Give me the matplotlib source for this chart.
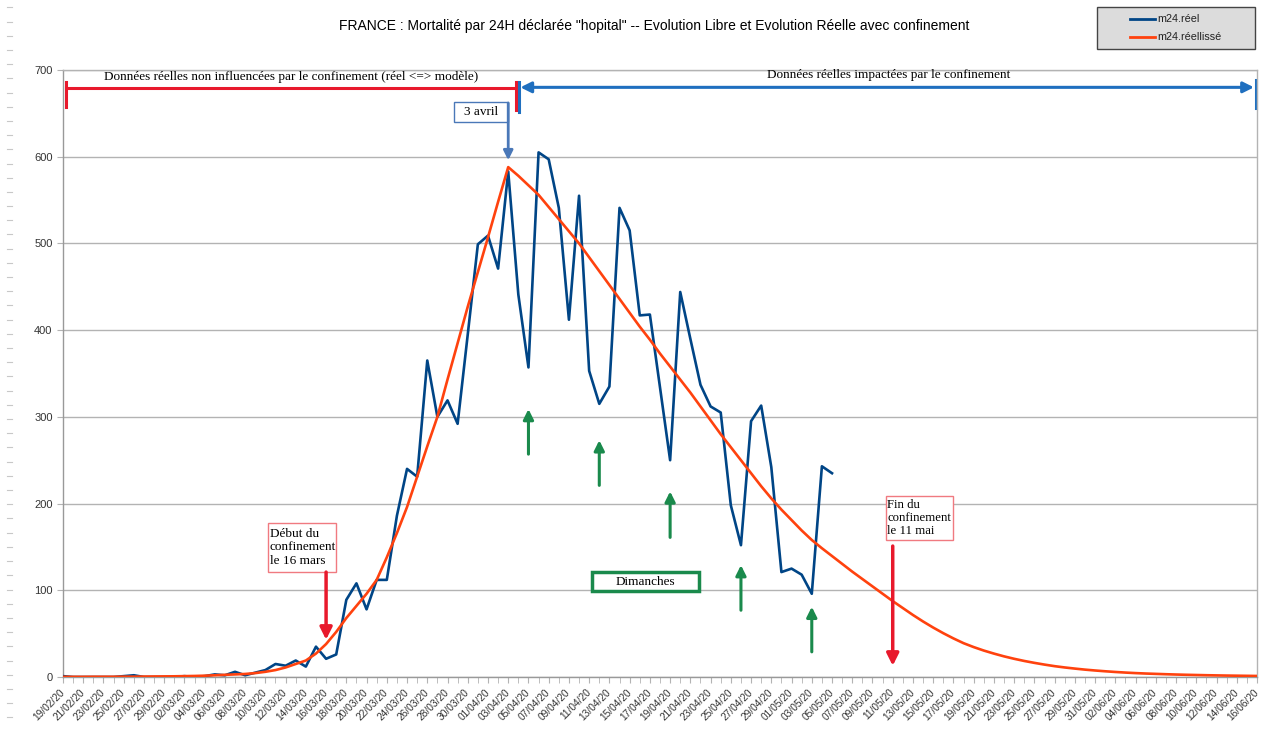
import matplotlib
matplotlib.use('Agg')
import matplotlib.pyplot as plt
from matplotlib.patches import Rectangle
from matplotlib.lines import Line2D
import pandas as pd

# jours du 19/02/20 au 16/06/20
dates = pd.date_range('2020-02-19', '2020-06-16', freq='D')
tick_labels = [d.strftime('%d/%m/%y') for d in dates]

# m24.réel (19/02 -> 06/05)
m24_reel = [1, 0, 0, 0, 0, 0, 1, 2, 0, 0,
            0, 0, 1, 0, 1, 3, 2, 6, 2, 5,
            8, 15, 13, 19, 12, 35, 21, 26, 89, 108,
            78, 112, 112, 186, 240, 231, 365, 300, 319, 292,
            395, 499, 509, 471, 583, 441, 357, 605, 597, 541,
            412, 555, 353, 315, 335, 541, 515, 417, 418, 334,
            250, 444, 390, 337, 312, 305, 198, 152, 295, 313,
            242, 121, 125, 118, 96, 243, 235]

# m24.réellissé (19/02 -> 16/06)
m24_lisse = [0.2, 0.2, 0.2, 0.3, 0.3, 0.3, 0.4, 0.4, 0.5, 0.6,
             0.7, 0.8, 1, 1.2, 1.5, 2, 2.5, 3, 3.5, 4.5,
             6, 8, 11, 15, 19, 27, 38, 52, 68, 82,
             96, 112, 138, 166, 196, 231, 266, 300, 343, 385,
             427, 467, 507, 548, 588, 578, 567, 556, 542, 528,
             514, 500, 484, 468, 452, 436, 420, 404, 389, 373,
             358, 343, 328, 312, 296, 280, 265, 250, 235, 220,
             206, 193, 181, 169, 158, 148.5, 139.5, 130.5, 121.5, 113,
             104.5, 96, 87.5, 79.5, 71.5, 64, 57, 50.5, 44.5, 39,
             34.5, 30.5, 27, 23.8, 21, 18.5, 16.3, 14.3, 12.5, 11,
             9.7, 8.5, 7.5, 6.6, 5.8, 5.1, 4.5, 4.0, 3.6, 3.2,
             2.85, 2.55, 2.3, 2.05, 1.85, 1.65, 1.5, 1.35, 1.2]

# dimanches marqués par une flèche verte (indice de jour, bas, pointe)
dimanches = [46, 53, 60, 67, 74]
dim_bas = [257, 221, 161, 77, 29]
dim_haut = [309, 273, 214, 129, 81]

BLEU = '#004586'
ORANGE = '#ff420e'
ROUGE = '#e8192c'
BLEU_ANNOT = '#1f6fbf'
VERT = '#1a8a4c'
GRIS = '#b3b3b3'

plt.rcParams['font.family'] = ['Liberation Sans', 'DejaVu Sans']

W, H = 1261, 731
fig = plt.figure(figsize=(W / 100, H / 100), dpi=100)
ax = fig.add_axes([63 / W, 54 / H, 1194 / W, 607 / H])

x_reel = list(range(len(m24_reel)))
x_lisse = list(range(len(m24_lisse)))
ax.plot(x_reel, m24_reel, color=BLEU, lw=1.9, zorder=3)
ax.plot(x_lisse, m24_lisse, color=ORANGE, lw=1.9, zorder=4)

ax.set_xlim(0, len(dates) - 1)
ax.set_ylim(0, 700)
ax.set_yticks(range(0, 701, 100))
ax.set_xticks(range(0, len(dates), 2))
ax.set_xticklabels(tick_labels[::2], rotation=45, ha='right', va='center',
                   rotation_mode='anchor', fontsize=7.3, color='#333333')
ax.set_xticks(range(len(dates)), minor=True)
ax.tick_params(axis='y', labelsize=8, colors='#333333', length=4, color=GRIS)
ax.tick_params(axis='x', which='both', length=4, color=GRIS, pad=6)
ax.grid(axis='y', color=GRIS, lw=1)
ax.set_axisbelow(True)
for s in ax.spines.values():
    s.set_color(GRIS)
    s.set_linewidth(1)
ax.spines['left'].set_color('#999999')
ax.spines['bottom'].set_color('#999999')

serif = ['Liberation Serif', 'DejaVu Serif']

# accolade rouge : avant confinement
ax.plot([0.3, 44.75], [679, 679], color=ROUGE, lw=2.2, clip_on=False)
ax.plot([0.3, 0.3], [657, 686], color=ROUGE, lw=2.2, clip_on=False)
ax.plot([44.75, 44.75], [654, 686], color=ROUGE, lw=2.2, clip_on=False)
ax.text(22.5, 692, 'Données réelles non influencées par le confinement (réel <=> modèle)',
        family=serif, fontsize=9.5, ha='center', va='center')

# flèche bleue : après confinement
ax.annotate('', xy=(45.2, 680), xytext=(117.7, 680),
            arrowprops=dict(arrowstyle='<|-|>', color=BLEU_ANNOT, lw=2.2,
                            mutation_scale=16, shrinkA=0, shrinkB=0), annotation_clip=False)
ax.plot([45.05, 45.05], [652, 686], color=BLEU_ANNOT, lw=2.2, clip_on=False)
ax.plot([117.9, 117.9], [656, 689], color=BLEU_ANNOT, lw=2.2, clip_on=False)
ax.text(81.6, 694, 'Données réelles impactées par le confinement',
        family=serif, fontsize=9.5, ha='center', va='center')

# 3 avril
ax.add_patch(Rectangle((38.6, 640), 5.35, 23, fill=True, facecolor='white',
                       edgecolor='#4a78b8', lw=1, zorder=5))
ax.text(41.3, 652, '3 avril', family=serif, fontsize=9.5, ha='center', va='center', zorder=6)
ax.annotate('', xy=(44, 596), xytext=(44, 662),
            arrowprops=dict(arrowstyle='-|>', color='#4a78b8', lw=2,
                            mutation_scale=14, shrinkA=0, shrinkB=0), zorder=6)

# début du confinement
ax.add_patch(Rectangle((20.26, 121), 6.72, 57, fill=True, facecolor='white',
                       edgecolor='#f07a80', lw=1, zorder=5))
ax.text(20.45, 149.5, 'Début du\nconfinement\nle 16 mars', family=serif, fontsize=9.5,
        ha='left', va='center', linespacing=1.15, zorder=6)
ax.annotate('', xy=(26, 43), xytext=(26, 121),
            arrowprops=dict(arrowstyle='-|>', color=ROUGE, lw=2.5,
                            mutation_scale=18, shrinkA=0, shrinkB=0), zorder=6)

# fin du confinement
ax.add_patch(Rectangle((81.3, 158), 6.7, 51, fill=True, facecolor='white',
                       edgecolor='#f07a80', lw=1, zorder=5))
ax.text(81.45, 183.5, 'Fin du\nconfinement\nle 11 mai', family=serif, fontsize=9.2,
        ha='left', va='center', linespacing=1.15, zorder=6)
ax.annotate('', xy=(82, 13), xytext=(82, 151),
            arrowprops=dict(arrowstyle='-|>', color=ROUGE, lw=2.5,
                            mutation_scale=18, shrinkA=0, shrinkB=0), zorder=6)

# dimanches
ax.add_patch(Rectangle((52.3, 99), 10.6, 22, fill=True, facecolor='white',
                       edgecolor=VERT, lw=2.5, zorder=5))
ax.text(57.6, 110, 'Dimanches', family=serif, fontsize=9.5, ha='center', va='center', zorder=6)
for d, b, h in zip(dimanches, dim_bas, dim_haut):
    ax.annotate('', xy=(d, h), xytext=(d, b),
                arrowprops=dict(arrowstyle='-|>', color=VERT, lw=2.2,
                                mutation_scale=15, shrinkA=0, shrinkB=0), zorder=6)

fig.text(654 / W, 1 - 26 / H,
         'FRANCE : Mortalité par 24H déclarée "hopital" -- Evolution Libre et Evolution Réelle avec confinement',
         ha='center', va='center', fontsize=10)

# légende (dessinée à la main, comme le cadre gris du tableur)
fig.add_artist(Rectangle((1097 / W, 1 - 49 / H), 158 / W, 42 / H, transform=fig.transFigure,
                         facecolor='#dcdcdc', edgecolor='#444444', lw=1))
for yy, col, lab in [(19, BLEU, 'm24.réel'), (37, ORANGE, 'm24.réellissé')]:
    fig.add_artist(Line2D([1130 / W, 1155 / W], [1 - yy / H, 1 - yy / H], color=col, lw=2))
    fig.text(1157 / W, 1 - yy / H, lab, fontsize=7.8, ha='left', va='center', color='#222222')

# petits tirets gris au bord gauche
y = 7.3
while y < H:
    fig.add_artist(Line2D([7 / W, 12 / W], [1 - y / H, 1 - y / H], color='#c8c8c8', lw=0.8))
    y += 14.2

fig.savefig('out.png', dpi=100)
